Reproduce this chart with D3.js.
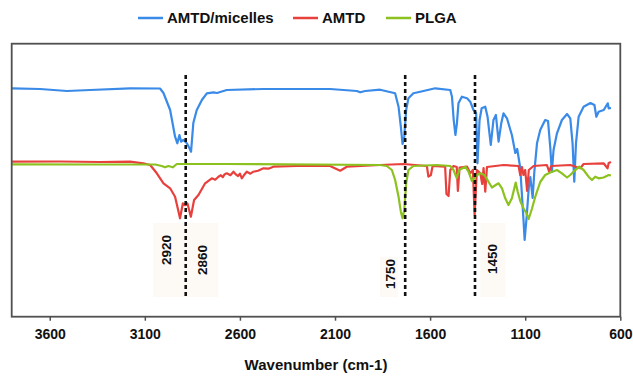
<!DOCTYPE html>
<html>
<head>
<meta charset="utf-8">
<script src="https://cdn.jsdelivr.net/npm/d3@7/dist/d3.min.js"></script>
<style>
  html, body { margin: 0; padding: 0; background: #fff; }
  svg { display: block; font-family: "Liberation Sans", Arial, sans-serif; }
</style>
</head>
<body>
<svg id="chart" width="633" height="379"></svg>
<script>
// ---- data (wavenumber cm-1, transmittance a.u.) ----
const seriesNames = ["AMTD/micelles", "AMTD", "PLGA"];
const seriesColors = ["#3a8ae8", "#e8403c", "#8cc21f"];
const xTicks = [3600, 3100, 2600, 2100, 1600, 1100, 600];
const xTitle = "Wavenumber (cm-1)";

const micelles = [
  [3798,228.4],[3651,227.7],[3509,225.7],[3388,226.7],[3178,228.4],[3020,228.2],[3002,223.7],
  [2967,206.7],[2941,180],[2929,173.4],[2918,181.7],[2909,175],[2897,176.7],[2879,173.4],
  [2866,168.7],[2857,165],[2845,193.7],[2827,206.7],[2800,216.7],[2774,223.4],[2739,224.4],
  [2720,223.7],[2704,224.7],[2669,226.7],[2478,227.7],[2126,227.7],[1985,225.7],[1968,224.4],
  [1941,225.7],[1863,227],[1784,223.4],[1766,210],[1754,190],[1745,172.7],[1736,180],
  [1726,206.7],[1714,218.4],[1688,223.4],[1652,225],[1573,228.4],[1494,226.7],[1485,220],
  [1476,196.7],[1467,181.7],[1459,193.4],[1451,213.4],[1433,220],[1406,218.4],[1389,215],
  [1372,206.7],[1358,203.7],[1351,153.4],[1340,196.7],[1329,208.4],[1310,210],[1298,200],
  [1281,171.7],[1267,196.7],[1254,201.7],[1240,175],[1226,193.4],[1214,203.4],[1196,198.4],
  [1170,181.7],[1152,163.7],[1142,167.7],[1126,148.7],[1109,96.7],[1103,76.7],[1092,100.7],
  [1081,129.7],[1073,139.7],[1061,118.7],[1052,144.7],[1038,173.4],[1021,186.7],[995,196.7],
  [980,195.7],[968,168.7],[960,144.7],[951,166.7],[933,183.4],[907,196.7],[880,202.7],
  [863,198.4],[851,173.4],[842,135],[833,173.4],[819,200],[793,210],[757,213.7],[736,211.7],
  [726,200],[714,205],[687,206.7],[666,213.4],[661,208.4],[649,208.7]
];
const amtd = [
  [3798,155],[3546,155.2],[3336,154.7],[3178,155],[3108,153.4],[3072,151.7],[3037,143.4],
  [3002,133.4],[2967,128.4],[2941,120],[2927,108.4],[2915,98.4],[2900,113.4],[2888,111.7],
  [2876,113.4],[2858,100],[2841,116.7],[2818,121.7],[2783,133.4],[2748,138.4],[2730,137],
  [2713,140],[2700,141.5],[2690,139.5],[2680,142.5],[2669,143.4],[2650,141.5],[2634,145],
  [2620,142],[2610,140.7],[2600,143],[2590,138.4],[2575,142.5],[2564,145],[2545,143],
  [2529,145],[2505,146],[2476,148.4],[2450,148],[2424,150],[2301,150.7],[2126,150.7],
  [2073,146],[2038,150],[1863,151.7],[1740,152.7],
  [1617,150.7],[1609,140],[1596,141.7],[1587,150.7],[1521,150],[1514,122.7],[1503,120.7],
  [1494,146.7],[1477,150.7],[1460,149.7],[1454,125.7],[1445,149.2],[1406,150.2],[1389,143.4],
  [1375,146.7],[1366,101.7],[1354,146.7],[1336,143.4],[1326,132.7],[1319,148.7],[1310,125],
  [1301,149.7],[1214,151.7],[1135,150.7],[1126,141.7],[1117,149.7],[1109,141.7],[1100,146.7],
  [1090,125.7],[1081,146.7],[1056,150.7],[986,151.7],[974,145],[963,150.7],[863,151.7],
  [811,148.4],[793,152.7],[688,153.4],[667,148.4],[661,153.7],[649,154.7]
];
const plga = [
  [3798,152.4],[3336,152.2],[3046,152.2],[3011,150.7],[2994,149.4],[2976,150.7],[2953,149.4],
  [2932,152.7],[2669,152.7],[1863,151.7],[1828,150.7],[1801,146.7],[1784,136.7],[1766,120],
  [1754,105],[1745,98.4],[1736,106.7],[1726,133.4],[1714,146.7],[1688,150.7],[1564,151.7],
  [1494,150.7],[1477,146.7],[1460,138.7],[1447,146.7],[1415,150],[1398,145],[1380,135.7],
  [1361,140.7],[1336,143.4],[1315,141.7],[1293,135],[1275,129.2],[1255,131.7],[1240,133.4],
  [1222,128.4],[1205,118.4],[1188,111.7],[1170,118.4],[1150,134.2],[1139,124.7],[1126,115.7],
  [1109,108.4],[1094,103.7],[1082,97.7],[1065,107.7],[1047,120],[1021,134.7],[995,141.7],
  [968,144.2],[933,146.7],[907,143.4],[880,139.2],[863,141.7],[846,145],[816,150],[793,146.7],
  [767,140],[749,136.7],[732,140],[714,138.4],[688,139.2],[661,141.7],[649,141.2]
];

// marker lines (position on axis) and their annotation texts
const markerLines = [2885, 1731, 1364];
const markerLabels = ["2920", "2860", "1750", "1450"];
const markerLabelPos = [[2988, 66.7], [2799, 56.7], [1810, 42.7], [1275, 57.7]];
const labelBoxes = [[3056, 2714, 93.7, 19.7], [1863, 1769, 59.7, 19.7], [1336, 1205, 93.7, 19.7]];

// ---- layout ----
const svg = d3.select("#chart");
const mLeft = 11.7, mRight = 620.3, mTop = 43.7, mBottom = 316.7;

const x = d3.scaleLinear().domain([3800, 600]).range([mLeft, mRight]);
const y = d3.scaleLinear().domain([0, 273]).range([mBottom, mTop]);

// label boxes
svg.append("g").selectAll("rect").data(labelBoxes).join("rect")
  .attr("x", d => x(d[0])).attr("width", d => x(d[1]) - x(d[0]))
  .attr("y", d => y(d[2])).attr("height", d => y(d[3]) - y(d[2]))
  .attr("fill", "#fdf9f5");

// spectra
const line = d3.line().x(d => x(d[0])).y(d => y(d[1]));
const allSeries = [micelles, amtd, plga];
svg.append("g").selectAll("path").data(allSeries).join("path")
  .attr("d", line)
  .attr("fill", "none")
  .attr("stroke", (d, i) => seriesColors[i])
  .attr("stroke-width", 2.2)
  .attr("stroke-linejoin", "round");

// dashed marker lines
svg.append("g").selectAll("line").data(markerLines).join("line")
  .attr("x1", d => x(d)).attr("x2", d => x(d))
  .attr("y1", y(241.7)).attr("y2", y(18.7))
  .attr("stroke", "#111").attr("stroke-width", 2.6)
  .attr("stroke-dasharray", "4,3");

// marker labels (rotated)
svg.append("g").selectAll("text").data(markerLabels).join("text")
  .attr("transform", (d, i) => `translate(${x(markerLabelPos[i][0])},${y(markerLabelPos[i][1])}) rotate(-90)`)
  .attr("text-anchor", "middle")
  .attr("dy", "0.36em")
  .attr("font-size", 13.5)
  .attr("font-weight", "bold")
  .attr("fill", "#111")
  .text(d => d);

// frame
svg.append("rect")
  .attr("x", mLeft).attr("y", mTop)
  .attr("width", mRight - mLeft).attr("height", mBottom - mTop)
  .attr("fill", "none").attr("stroke", "#505050").attr("stroke-width", 1.8);

// x axis
const xAxis = d3.axisBottom(x).tickValues(xTicks).tickSize(4).tickPadding(8).tickFormat(d3.format("d"));
const gx = svg.append("g").attr("transform", `translate(0,${mBottom})`).call(xAxis);
gx.select(".domain").remove();
gx.selectAll(".tick line").attr("stroke", "#505050").attr("stroke-width", 1.5);
gx.selectAll(".tick text")
  .attr("font-size", 14).attr("font-weight", "bold").attr("fill", "#111")
  .attr("font-family", "'Liberation Sans', Arial, sans-serif");

svg.append("text")
  .attr("x", (mLeft + mRight) / 2).attr("y", 370)
  .attr("text-anchor", "middle")
  .attr("font-size", 15).attr("font-weight", "bold").attr("fill", "#111")
  .text(xTitle);

// legend
const legendX = [138, 293, 386];
const lg = svg.append("g").selectAll("g").data(seriesNames).join("g")
  .attr("transform", (d, i) => `translate(${legendX[i]},18)`);
lg.append("line").attr("x1", 0).attr("x2", 25).attr("y1", 0).attr("y2", 0)
  .attr("stroke", (d, i) => seriesColors[i]).attr("stroke-width", 2.5);
lg.append("text").attr("x", 29).attr("y", 0).attr("dy", "0.36em")
  .attr("font-size", 15).attr("font-weight", "bold").attr("fill", "#111")
  .text(d => d);
</script>
</body>
</html>
